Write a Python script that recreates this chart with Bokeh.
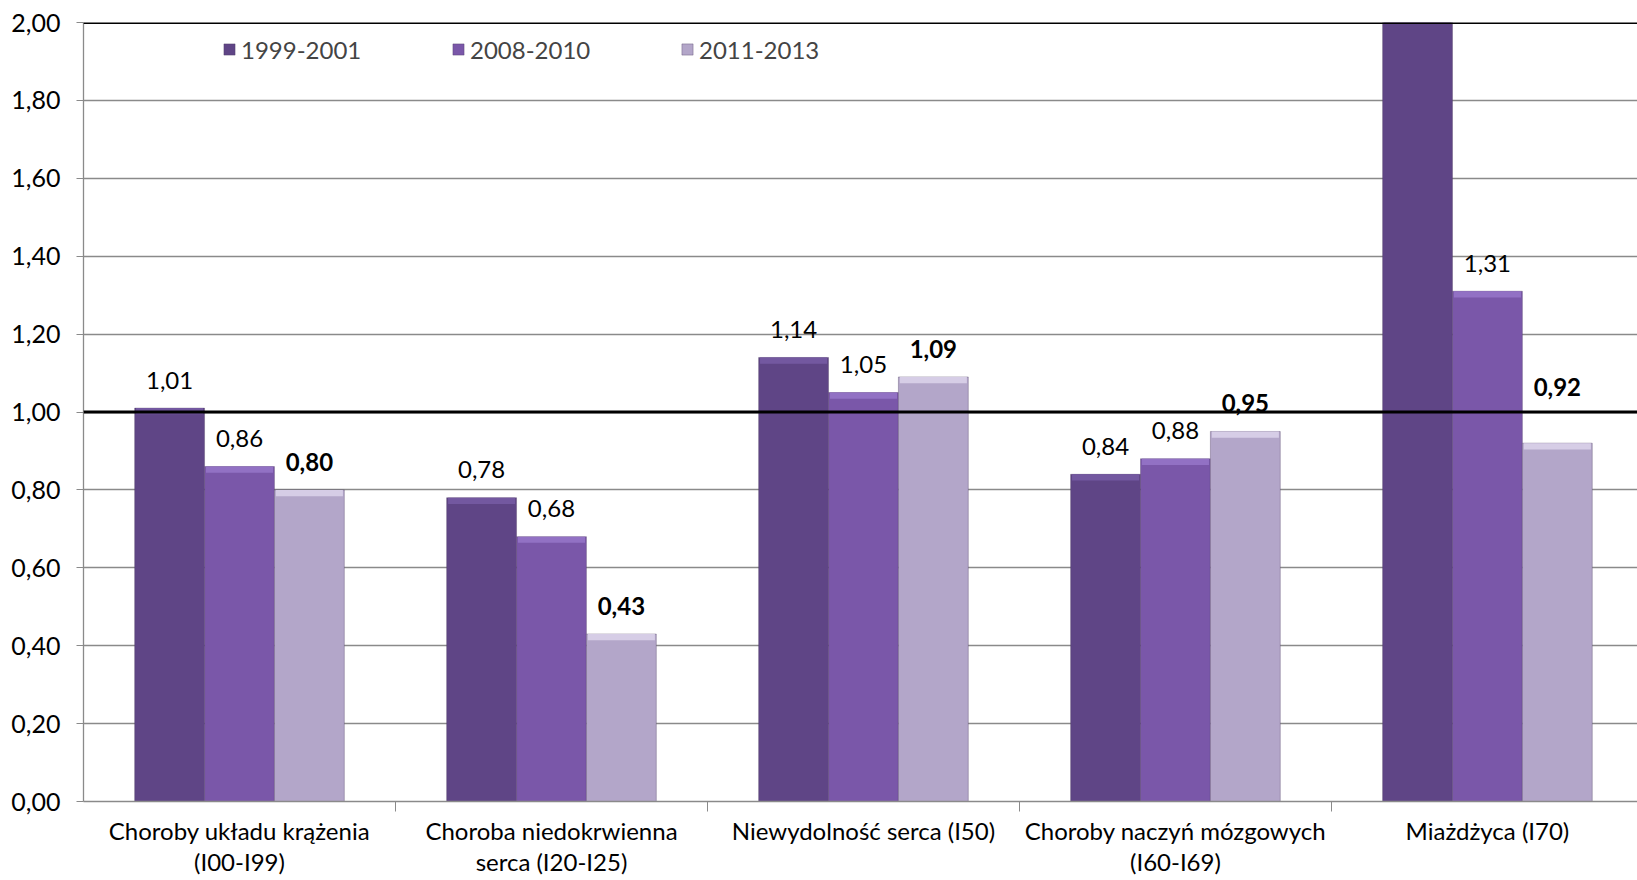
from bokeh.plotting import figure
from bokeh.models import (ColumnDataSource, Range1d, FixedTicker, CustomJSTickFormatter,
                          Span, Legend, LegendItem, LabelSet)
from bokeh.core.properties import value
from bokeh.embed import file_html
from bokeh.resources import INLINE

# ---- data ----
categories = ["Choroby układu krążenia\n(I00-I99)",
              "Choroba niedokrwienna\nserca (I20-I25)",
              "Niewydolność serca (I50)",
              "Choroby naczyń mózgowych\n(I60-I69)",
              "Miażdżyca (I70)"]
series_names = ["1999-2001", "2008-2010", "2011-2013"]
v_1999_2001 = [1.01, 0.78, 1.14, 0.84, 2.50]
v_2008_2010 = [0.86, 0.68, 1.05, 0.88, 1.31]
v_2011_2013 = [0.80, 0.43, 1.09, 0.95, 0.92]
labels_1999_2001 = ["1,01", "0,78", "1,14", "0,84", ""]
labels_2008_2010 = ["0,86", "0,68", "1,05", "0,88", "1,31"]
labels_2011_2013 = ["0,80", "0,43", "1,09", "0,95", "0,92"]
y_ticks = [0.0, 0.2, 0.4, 0.6, 0.8, 1.0, 1.2, 1.4, 1.6, 1.8, 2.0]
reference_value = 1.0

# ---- style ----
FONT = "Lato"
colors = ["#5f4586", "#7a57a9", "#b3a6c9"]
highlights = ["#7358a0", "#9271c4", "#d6cde6"]
label_offsets = [[28] * 5, [28] * 5, [28, 28, 28, 28, 56]]

FRAME_TOP = 22
FRAME_H = 779
p = figure(width=1637, height=878, output_backend="svg", toolbar_location=None,
           x_range=Range1d(-0.5, 4.481), y_range=Range1d(0, 2.0),
           min_border_left=83, min_border_right=0, min_border_top=FRAME_TOP,
           min_border_bottom=878 - FRAME_TOP - FRAME_H)
p.outline_line_color = None
p.background_fill_color = "white"
p.border_fill_color = "white"

# grid
p.xgrid.visible = False
p.ygrid.ticker = FixedTicker(ticks=y_ticks)
p.ygrid.grid_line_color = "#8a8a8a"
p.ygrid.grid_line_width = 1.3

offsets = [-0.224, 0.0, 0.224]
width = 0.224
all_vals = [v_1999_2001, v_2008_2010, v_2011_2013]
all_labels = [labels_1999_2001, labels_2008_2010, labels_2011_2013]
renderers = []
for k in range(3):
    xs = [i + offsets[k] for i in range(len(categories))]
    src = ColumnDataSource(dict(x=xs, top=all_vals[k],
                                band=[v - 0.016 for v in all_vals[k]],
                                lab=all_labels[k], dy=label_offsets[k]))
    r = p.vbar(x="x", top="top", bottom=0, width=width, source=src,
               fill_color=colors[k], line_color="#4a3a5e", line_alpha=0.35, line_width=1)
    p.vbar(x="x", top="top", bottom="band", width=width * 0.96, source=src,
           fill_color=highlights[k], line_color=None)
    renderers.append(r)
    ls = LabelSet(x="x", y="top", text="lab", source=src, y_offset="dy",
                  text_align="center", text_baseline="middle",
                  text_font=value(FONT), text_font_size=value("24px"), text_color="black",
                  text_font_style="bold" if k == 2 else "normal")
    p.add_layout(ls)

# reference line and top border
p.add_layout(Span(location=reference_value, dimension="width", line_color="black", line_width=3))
p.add_layout(Span(location=2.0, dimension="width", line_color="black", line_width=3))

# y axis
p.yaxis.ticker = FixedTicker(ticks=y_ticks)
p.yaxis.formatter = CustomJSTickFormatter(code="return tick.toFixed(2).replace('.', ',');")
p.yaxis.axis_line_color = "#8a8a8a"
p.yaxis.axis_line_width = 1.3
p.yaxis.major_tick_line_color = "#8a8a8a"
p.yaxis.major_tick_out = 7
p.yaxis.major_tick_in = 0
p.yaxis.minor_tick_line_color = None
p.yaxis.major_label_standoff = 16
p.yaxis.major_label_text_font = FONT
p.yaxis.major_label_text_font_size = "25px"
p.yaxis.major_label_text_color = "black"

# x axis
p.xaxis.ticker = FixedTicker(ticks=list(range(len(categories))),
                             minor_ticks=[i + 0.5 for i in range(len(categories) - 1)])
p.xaxis.major_label_overrides = {i: c for i, c in enumerate(categories)}
p.xaxis.axis_line_color = "#8a8a8a"
p.xaxis.axis_line_width = 1.3
p.xaxis.major_tick_line_color = None
p.xaxis.major_tick_out = 0
p.xaxis.major_tick_in = 0
p.xaxis.minor_tick_line_color = "#8a8a8a"
p.xaxis.minor_tick_out = 10
p.xaxis.minor_tick_in = 0
p.xaxis.major_label_standoff = 4
p.xaxis.major_label_text_font = FONT
p.xaxis.major_label_text_font_size = "24px"
p.xaxis.major_label_text_line_height = 1.08
p.xaxis.major_label_text_color = "black"
p.xaxis.major_label_text_align = "center"

LEG_H = 30
legend = Legend(items=[LegendItem(label=series_names[k], renderers=[renderers[k]]) for k in range(3)],
                orientation="horizontal", location=(139, FRAME_H - 27 - LEG_H // 2),
                glyph_width=14, glyph_height=14, label_standoff=5, label_width=210,
                spacing=0, padding=0, margin=0, border_line_color=None,
                background_fill_alpha=0, label_text_font=FONT, label_text_font_size="24px",
                label_height=LEG_H)
p.add_layout(legend)

open("out.html", "w").write(file_html(p, INLINE))
